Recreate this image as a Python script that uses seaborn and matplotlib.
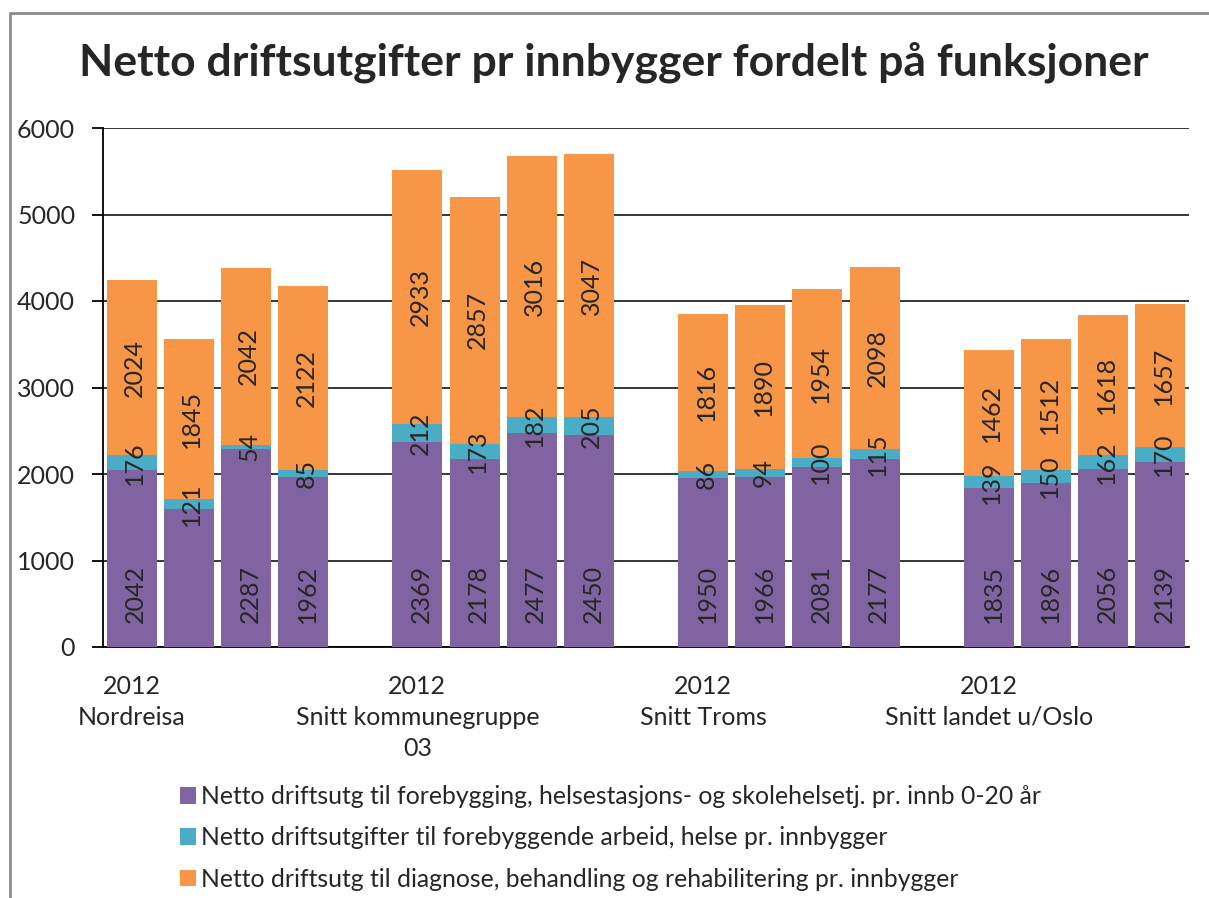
import numpy as np
import pandas as pd
import seaborn as sns
import matplotlib.pyplot as plt
from matplotlib.lines import Line2D
from matplotlib.patches import Patch

groups = ['Nordreisa', 'Snitt kommunegruppe\n03', 'Snitt Troms', 'Snitt landet u/Oslo']
years = ['2012', '2013', '2014', '2015']
# per bar, group by group (4 bars per group)
forebygging_helsestasjon = [2042, 1594, 2287, 1962, 2369, 2178, 2477, 2450,
                            1950, 1966, 2081, 2177, 1835, 1896, 2056, 2139]
forebyggende_helse = [176, 121, 54, 85, 212, 173, 182, 205,
                      86, 94, 100, 115, 139, 150, 162, 170]
diagnose_behandling = [2024, 1845, 2042, 2122, 2933, 2857, 3016, 3047,
                       1816, 1890, 1954, 2098, 1462, 1512, 1618, 1657]
# the purple label of Nordreisa bar 2 is not shown in the original
hidden_purple = [1]

series_names = ['Netto driftsutg til forebygging, helsestasjons- og skolehelsetj. pr. innb 0-20 år',
                'Netto driftsutgifter til forebyggende arbeid, helse pr. innbygger',
                'Netto driftsutg til diagnose, behandling og rehabilitering pr. innbygger']
colors = ['#8064A2', '#4BACC6', '#F79646']

rows = []
for g_i, g in enumerate(groups):
    for y_i, yr in enumerate(years):
        k = g_i * 4 + y_i
        rows.append({'slot': '{!s} {!s}'.format(g, yr), 'group': g, 'year': yr,
                     'p': forebygging_helsestasjon[k], 't': forebyggende_helse[k],
                     'o': diagnose_behandling[k]})
df = pd.DataFrame(rows)
df['pt'] = df.p + df.t
df['total'] = df.pt + df.o

order = []
for g_i, g in enumerate(groups):
    order += ['{!s} {!s}'.format(g, yr) for yr in years]
    if g_i < len(groups) - 1:
        order.append('gap{!s}'.format(g_i))

sns.set_style('white')
plt.rcParams['font.family'] = ['Lato', 'DejaVu Sans']

fig = plt.figure(figsize=(12.09, 8.98), dpi=100)
ax = fig.add_axes([103 / 1209, 1 - 647 / 898, 1086 / 1209, 519 / 898])

for col, c in zip(['total', 'pt', 'p'], colors[::-1]):
    sns.barplot(data=df, x='slot', y=col, order=order, color=c, saturation=1,
                width=0.875, linewidth=0, errorbar=None, ax=ax, zorder=3)

# segment labels
lab_size = 18
for _, r in df.iterrows():
    x = order.index(r.slot)
    k = list(df.slot).index(r.slot)
    if k not in hidden_purple:
        ax.annotate(str(r.p), (x, 0), xytext=(3, 17), textcoords='offset points',
                    rotation=90, ha='center', va='bottom', fontsize=lab_size, zorder=5)
    ax.text(x + 0.05, r.p + r.t / 2, str(r.t), rotation=90, ha='center', va='center',
            fontsize=lab_size, zorder=5)
    ax.text(x + 0.05, r.pt + r.o / 2, str(r.o), rotation=90, ha='center', va='center',
            fontsize=lab_size, zorder=5)

ax.set_ylim(0, 6000)
ax.set_xlim(-0.5, len(order) - 0.5)
ax.set_yticks(np.arange(0, 6001, 1000))
ax.yaxis.grid(True, color='black', linewidth=1.1)
ax.set_axisbelow(True)
for s in ['top', 'right']:
    ax.spines[s].set_visible(False)
for s in ['left', 'bottom']:
    ax.spines[s].set_color('black')
    ax.spines[s].set_linewidth(1.3)
ax.set_zorder(1)

xlabels = []
for s in order:
    if s.endswith('2012'):
        xlabels.append('2012\n' + s[:-5])
    else:
        xlabels.append('')
ax.set_xticks(range(len(order)))
ax.set_xticklabels(xlabels, fontsize=18, linespacing=1.42)
ax.set_xticks(np.arange(-0.5, len(order), 1), minor=True)
ax.tick_params(axis='x', which='major', length=0, pad=20)
ax.tick_params(axis='x', which='minor', length=8, width=1.3, color='black', direction='out')
ax.tick_params(axis='y', length=8, width=1.3, color='black', direction='out', pad=12, labelsize=18, left=True)
ax.set_xlabel('')
ax.set_ylabel('')

fig.text(614 / 1209, 1 - 62 / 898, 'Netto driftsutgifter pr innbygger fordelt på funksjoner',
         ha='center', va='center', fontsize=32, fontweight='bold')

handles = [Patch(facecolor=c, edgecolor='none') for c in colors]
fig.legend(handles, series_names, loc='upper left', bbox_to_anchor=(180 / 1209, 1 - 785 / 898),
           frameon=False, fontsize=17.8, handlelength=0.65, handleheight=0.65, handletextpad=0.2,
           labelspacing=0.74, borderpad=0, borderaxespad=0)

# chart border (gray) on top and left
fig.add_artist(Line2D([10 / 1209, 1], [1 - 13 / 898, 1 - 13 / 898], color='#8c8c8c', linewidth=2,
                      transform=fig.transFigure))
fig.add_artist(Line2D([10 / 1209, 10 / 1209], [0, 1 - 13 / 898], color='#8c8c8c', linewidth=2,
                      transform=fig.transFigure))

fig.savefig('out.png', dpi=100)
